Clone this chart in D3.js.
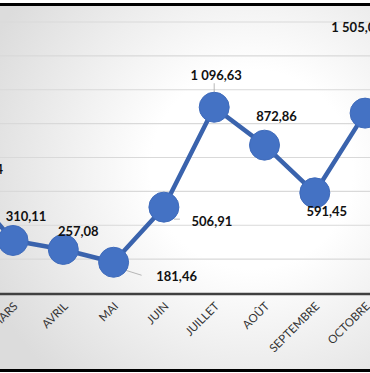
<!DOCTYPE html>
<html><head><meta charset="utf-8">
<script src="https://cdn.jsdelivr.net/npm/d3@7"></script>
<style>html,body{margin:0;padding:0;background:#fff;overflow:hidden}</style>
</head><body>
<svg id="c" width="370" height="373"></svg>
<script>
const months = ["FÉVRIER","MARS","AVRIL","MAI","JUIN","JUILLET","AOÛT","SEPTEMBRE","OCTOBRE","NOVEMBRE"];
const values = [655.34, 310.11, 257.08, 181.46, 506.91, 1096.63, 872.86, 591.45, 1062, 1505.06];
const labels = ["655,34","310,11","257,08","181,46","506,91","1 096,63","872,86","591,45","1 505,06",""];
const yTicks = [0,200,400,600,800,1000,1200,1400,1600];
// label offsets (dx, dy) relative to point
const labelOffsets = [[20,-8],[13,-19],[15,-13],[63,19],[48,19],[2,-27],[12,-24],[12,23],[-8,-81],[0,0]];

const svg = d3.select("#c");
const W = 370, H = 373;
const defs = svg.append("defs");
const g = defs.append("radialGradient").attr("id","bg").attr("cx","68%").attr("cy","45%").attr("r","78%");
g.append("stop").attr("offset","0%").attr("stop-color","#ffffff");
g.append("stop").attr("offset","35%").attr("stop-color","#ffffff");
g.append("stop").attr("offset","100%").attr("stop-color","#dcdcdc");
svg.append("rect").attr("x",0).attr("y",5).attr("width",W).attr("height",365).attr("fill","url(#bg)");

const x = d3.scalePoint().domain(months).range([13-50.3, 13+8*50.3]);
const y = d3.scaleLinear().domain([0,1600]).range([293,22]);

// gridlines
svg.append("g").selectAll("line").data(yTicks.slice(1)).join("line")
  .attr("x1",0).attr("x2",W).attr("y1",d=>y(d)).attr("y2",d=>y(d))
  .attr("stroke","#d9d9d9").attr("stroke-width",1.2);

// axis
const xAxis = d3.axisBottom(x).tickSize(0).tickPadding(0);
const ax = svg.append("g").attr("transform",`translate(0,${y(0)})`).call(xAxis);
ax.select(".domain").remove();
ax.selectAll("text")
  .attr("font-family","Lato, 'Open Sans', sans-serif").attr("font-size",11.5)
  .attr("fill","#333333")
  .attr("text-anchor","end")
  .attr("dy",0).attr("y",0)
  .attr("transform","translate(5,14) rotate(-45)");
svg.append("line").attr("x1",0).attr("x2",W).attr("y1",y(0)+1).attr("y2",y(0)+1)
  .attr("stroke","#404040").attr("stroke-width",2.5);

// leader lines
const leaders = [3,4,5,6];
svg.append("g").selectAll("line").data(leaders).join("line")
  .attr("x1",i=>x(months[i])+ (i===3?12:(i===4?10:0)))
  .attr("y1",i=>y(values[i])+ (i===3?8:(i===4?12:(i===5?-6:-6))))
  .attr("x2",i=>x(months[i])+ (i===3?28:(i===4?16:(i===5?0:4))))
  .attr("y2",i=>y(values[i])+ (i===3?13:(i===4?12:(i===5?-24:-14))))
  .attr("stroke","#a6a6a6").attr("stroke-width",0.8);

// line
const line = d3.line().x((d,i)=>x(months[i])).y(d=>y(d));
svg.append("path").datum(values).attr("d",line)
  .attr("fill","none").attr("stroke","#3a63ad").attr("stroke-width",4.5).attr("stroke-linejoin","round");

// markers
svg.append("g").selectAll("circle").data(values).join("circle")
  .attr("cx",(d,i)=>x(months[i])).attr("cy",d=>y(d)).attr("r",15)
  .attr("fill","#4472c4").attr("stroke","#3f6bbb").attr("stroke-width",1);

// data labels
svg.append("g").selectAll("text").data(values).join("text")
  .attr("x",(d,i)=>x(months[i])+labelOffsets[i][0])
  .attr("y",(d,i)=>y(d)+labelOffsets[i][1])
  .attr("text-anchor","middle")
  .attr("font-family","Lato, 'Open Sans', sans-serif").attr("font-weight","bold").attr("font-size",13)
  .attr("fill","#111111")
  .text((d,i)=>labels[i]);

// borders
svg.append("rect").attr("x",0).attr("y",3).attr("width",W).attr("height",3).attr("fill","#000");
svg.append("rect").attr("x",0).attr("y",369).attr("width",W).attr("height",3).attr("fill","#000");
</script>
</body></html>
